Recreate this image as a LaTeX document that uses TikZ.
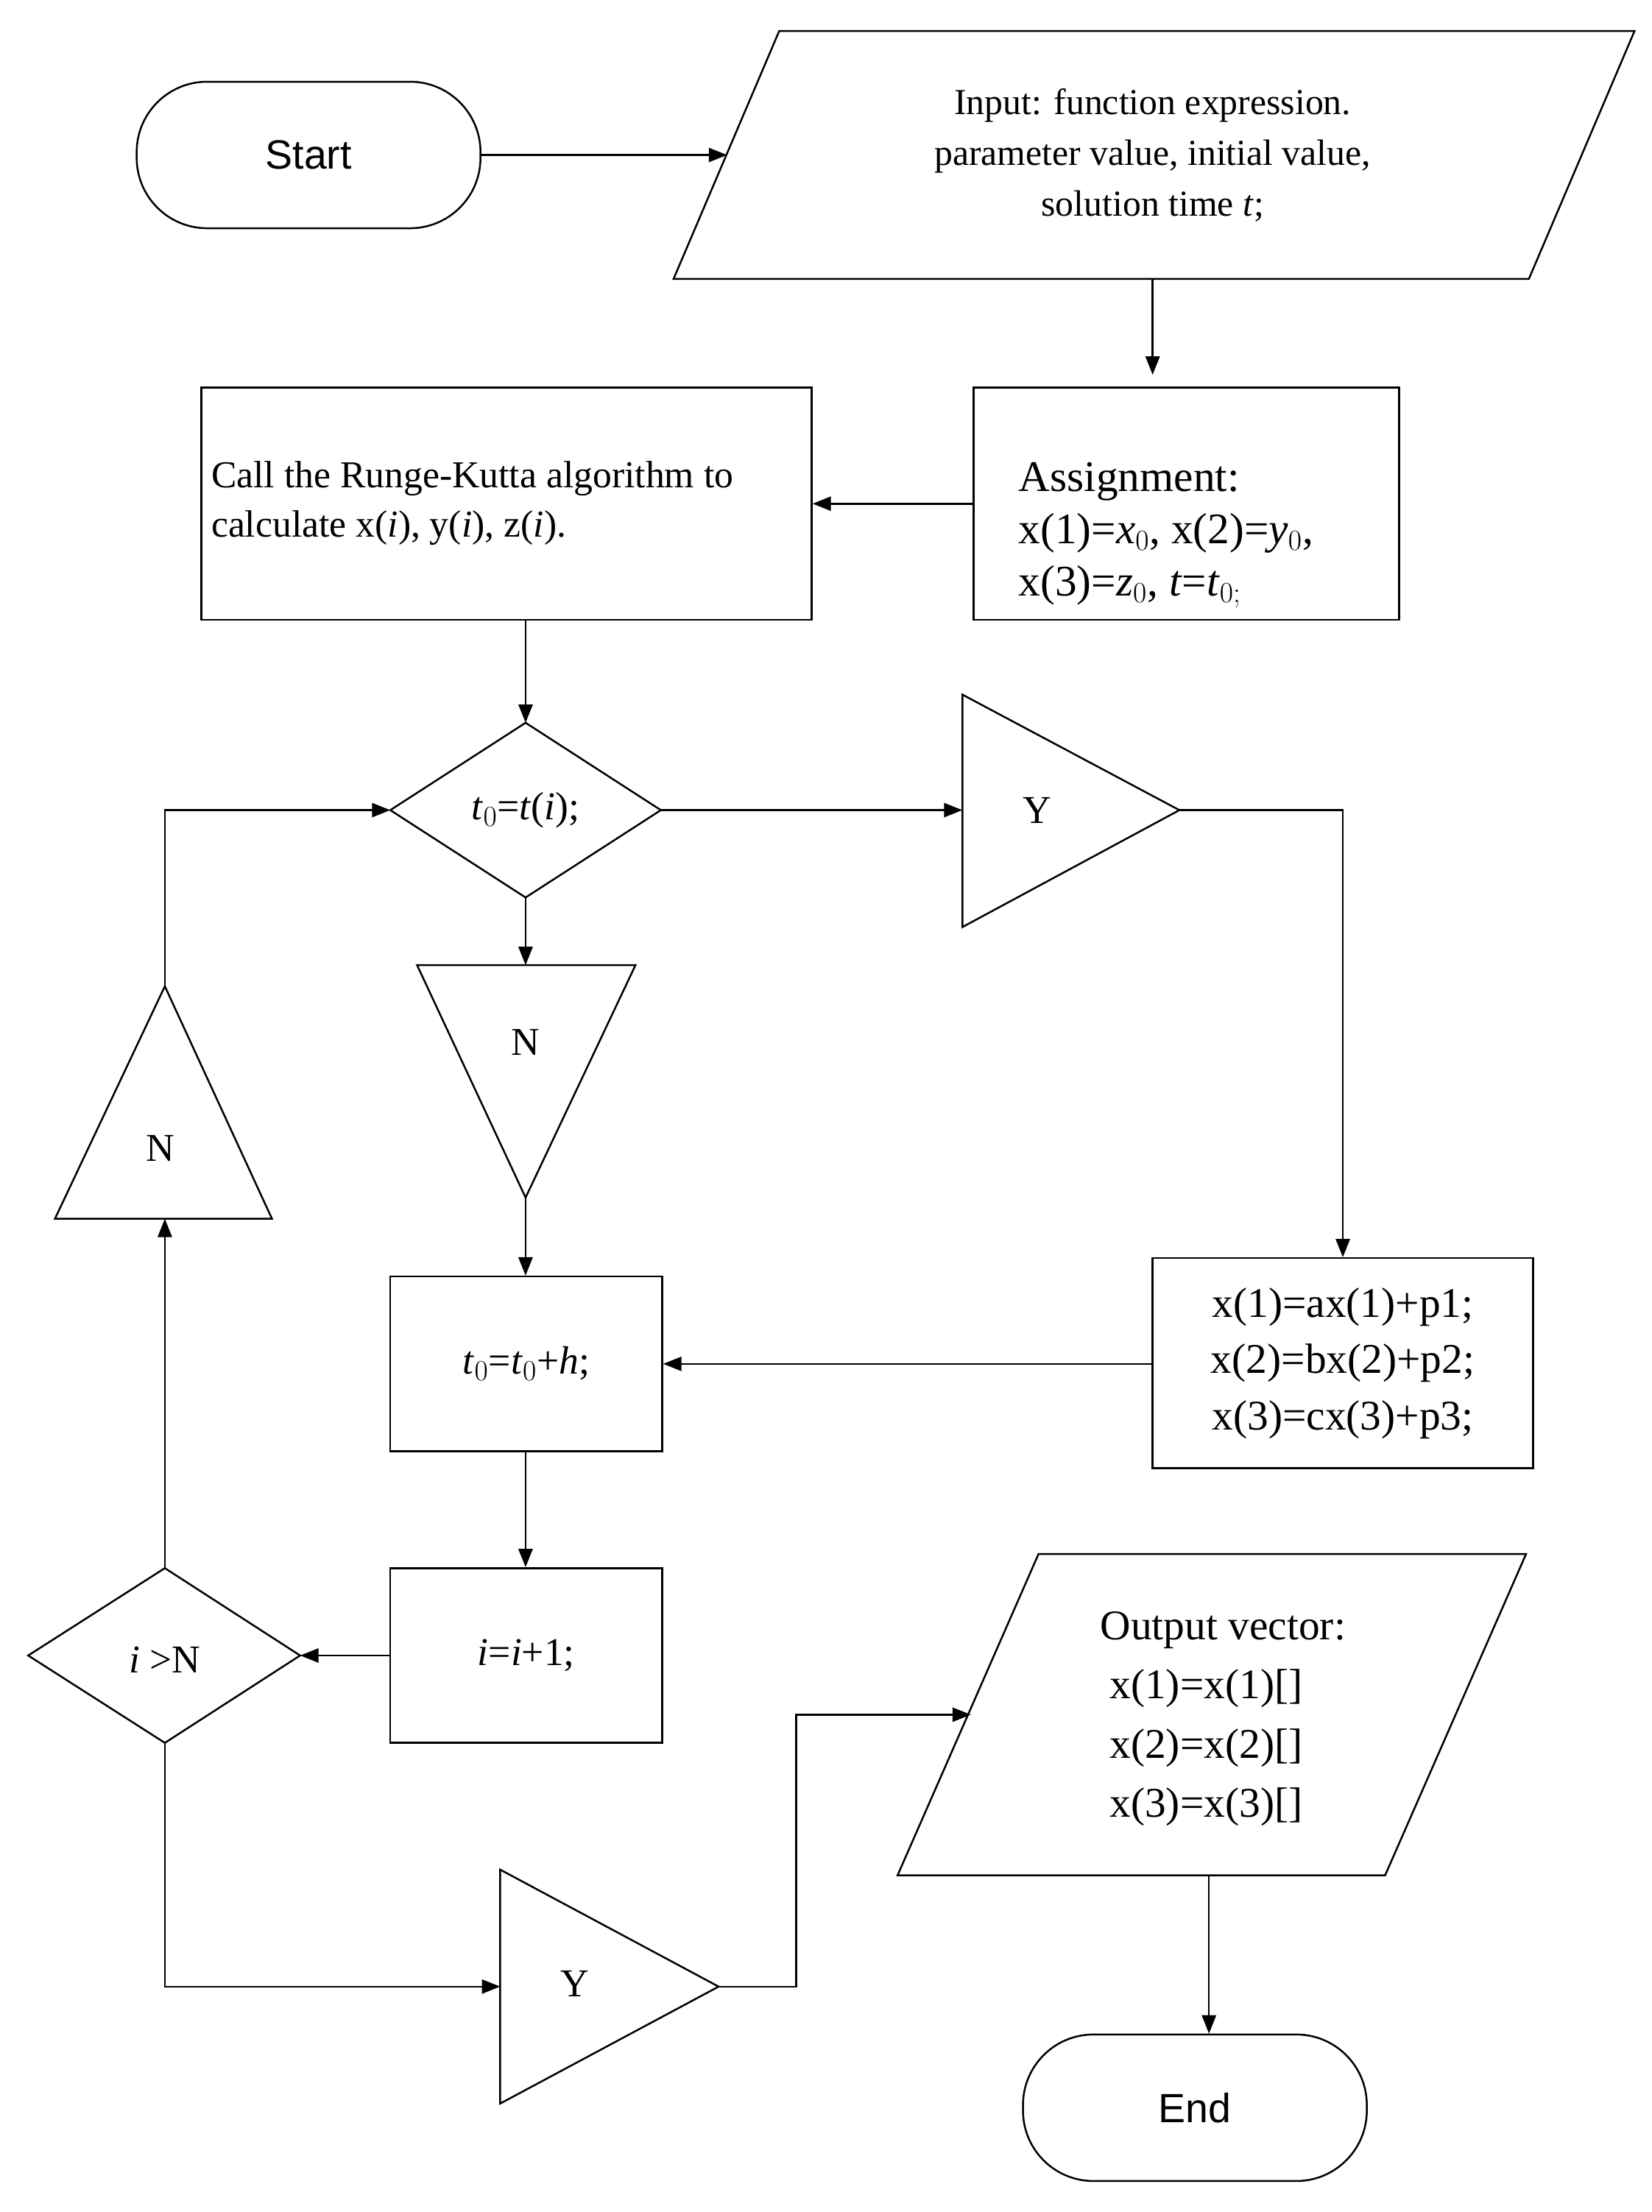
\documentclass[tikz,border=0pt]{standalone}
\usepackage{fontspec}
\setmainfont{Liberation Serif}
\newfontfamily\sansf{Liberation Sans}
\usetikzlibrary{arrows.meta}
\begin{document}
\begin{tikzpicture}[x=1pt,y=-1pt,line width=1.3pt,
  box/.style={draw,inner sep=0pt},
  arr/.style={-{Triangle[length=13pt,width=10pt]}},
  txt/.style={font=\fontsize{28}{35}\selectfont,align=center},
  term/.style={draw,rounded corners=50pt,minimum width=244pt,minimum height=104pt,font=\sansf\fontsize{29}{30}\selectfont}]
\useasboundingbox (0,0) rectangle (1172,1570);
% Start
\node[term] (start) at (219,110) {Start};
% Input parallelogram
\coordinate (i1) at (553,22); \coordinate (i2) at (1160,22);
\coordinate (i3) at (1085,198); \coordinate (i4) at (478,198);
\draw (i1)--(i2)--(i3)--(i4)--cycle;
\coordinate (inL) at (516,110); \coordinate (inB) at (818,198);
\node[txt,font=\fontsize{26}{36}\selectfont] (intext) at (818,110) {Input: function expression.\\parameter value, initial value,\\solution time \textit{t};};
% Assignment
\node[box,minimum width=302pt,minimum height=165pt] (asg) at (842,357.5) {};
\node[font=\fontsize{31}{37}\selectfont,align=left,anchor=west] at (719,380) {Assignment:\\x(1)=\textit{x}$_0$, x(2)=\textit{y}$_0$,\\x(3)=\textit{z}$_0$, \textit{t}=\textit{t}$_{0;}$};
% RK
\node[box,minimum width=433pt,minimum height=165pt] (rk) at (359.5,357.5) {};
\node[font=\fontsize{27}{35}\selectfont,align=left,anchor=west] at (146,357) {Call the Runge-Kutta algorithm to\\calculate x(\textit{i}), y(\textit{i}), z(\textit{i}).};
% diamond t0=t(i)
\coordinate (d1t) at (373,513); \coordinate (d1r) at (469,575);
\coordinate (d1b) at (373,637); \coordinate (d1l) at (277,575);
\draw (d1t)--(d1r)--(d1b)--(d1l)--cycle;
\node[txt] at (373,575) {\textit{t}$_0$=\textit{t}(\textit{i});};
% Triangle Y (right)
\coordinate (ty1L) at (683,575); \coordinate (ty1A) at (837,575);
\draw (683,493)--(ty1A)--(683,658)--cycle;
\node[txt] at (736,575) {Y};
% rect x(1)=...
\node[box,minimum width=270pt,minimum height=149pt] (upd) at (953,967.5) {};
\node[txt,font=\fontsize{30}{40}\selectfont] at (953,967.5) {x(1)=ax(1)+p1;\\x(2)=bx(2)+p2;\\x(3)=cx(3)+p3;};
\coordinate (updR) at (818,968);
% Triangle N down
\coordinate (tn1T) at (373,685); \coordinate (tn1A) at (373,850);
\draw (296,685)--(451,685)--(tn1A)--cycle;
\node[txt] at (373,740) {N};
% t0=t0+h
\node[box,minimum width=193pt,minimum height=124pt,txt] (th) at (373.5,968) {\textit{t}$_0$=\textit{t}$_0$+\textit{h};};
% i=i+1
\node[box,minimum width=193pt,minimum height=124pt,txt] (ii) at (373.5,1175) {\textit{i}=\textit{i}+1;};
% diamond i>N
\coordinate (d2t) at (117,1113); \coordinate (d2r) at (213,1175);
\coordinate (d2b) at (117,1237); \coordinate (d2l) at (20,1175);
\draw (d2t)--(d2r)--(d2b)--(d2l)--cycle;
\node[txt] at (117,1178) {\textit{i} >N};
% Triangle N up
\coordinate (tn2B) at (117,865); \coordinate (tn2A) at (117,700);
\draw (39,865)--(193,865)--(tn2A)--cycle;
\node[txt] at (114,815) {N};
% Triangle Y bottom
\coordinate (ty2L) at (355,1410); \coordinate (ty2A) at (510,1410);
\draw (355,1327)--(ty2A)--(355,1493)--cycle;
\node[txt] at (408,1408) {Y};
% Output parallelogram
\draw (737,1103)--(1083,1103)--(983,1331)--(637,1331)--cycle;
\coordinate (outL) at (689,1217); \coordinate (outB) at (858,1331);
\node[font=\fontsize{30}{42}\selectfont,align=center] at (868,1220) {Output vector:\\\hspace*{-0.8em}x(1)=x(1)[]\\\hspace*{-0.8em}x(2)=x(2)[]\\\hspace*{-0.8em}x(3)=x(3)[]};
% End
\node[term] (end) at (848,1496) {End};
% connectors
\draw[arr] (start.east) -- (inL);
\draw[arr] (inB) -- (818,266);
\draw[arr] (asg.west) -- (rk.east);
\draw[arr] (rk.south -| d1t) -- (d1t);
\draw[arr] (d1r) -- (ty1L);
\draw[arr] (ty1A) -| (upd.north);
\draw[arr] (updR) -- (th.east);
\draw[arr] (d1b) -- (tn1T);
\draw[arr] (tn1A) -- (th.north -| tn1A);
\draw[arr] (th.south -| tn1A) -- (ii.north -| tn1A);
\draw[arr] (ii.west) -- (d2r);
\draw[arr] (d2t) -- (tn2B);
\draw[arr] (tn2A) |- (d1l);
\draw[arr] (d2b) |- (ty2L);
\draw[arr] (ty2A) -- (565,1410) |- (outL);
\draw[arr] (outB) -- (end.north -| outB);
\end{tikzpicture}
\end{document}
